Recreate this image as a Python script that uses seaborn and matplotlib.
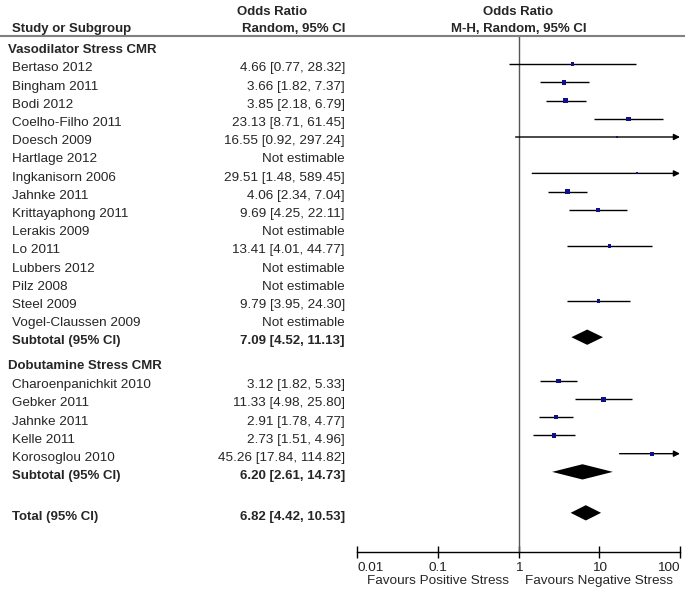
import numpy as np
import pandas as pd
import matplotlib.pyplot as plt
import seaborn as sns
from matplotlib.lines import Line2D

# ---- data ----
vaso_studies = ['Bertaso 2012', 'Bingham 2011', 'Bodi 2012', 'Coelho-Filho 2011', 'Doesch 2009',
                'Hartlage 2012', 'Ingkanisorn 2006', 'Jahnke 2011', 'Krittayaphong 2011', 'Lerakis 2009',
                'Lo 2011', 'Lubbers 2012', 'Pilz 2008', 'Steel 2009', 'Vogel-Claussen 2009']
vaso_or = [4.66, 3.66, 3.85, 23.13, 16.55, np.nan, 29.51, 4.06, 9.69, np.nan, 13.41, np.nan, np.nan, 9.79, np.nan]
vaso_lo = [0.77, 1.82, 2.18, 8.71, 0.92, np.nan, 1.48, 2.34, 4.25, np.nan, 4.01, np.nan, np.nan, 3.95, np.nan]
vaso_hi = [28.32, 7.37, 6.79, 61.45, 297.24, np.nan, 589.45, 7.04, 22.11, np.nan, 44.77, np.nan, np.nan, 24.30, np.nan]
vaso_wt = [3, 4, 5, 4, 2, 0, 2, 4, 3.5, 0, 3, 0, 0, 3.5, 0]
vaso_sub = (7.09, 4.52, 11.13)

dobu_studies = ['Charoenpanichkit 2010', 'Gebker 2011', 'Jahnke 2011', 'Kelle 2011', 'Korosoglou 2010']
dobu_or = [3.12, 11.33, 2.91, 2.73, 45.26]
dobu_lo = [1.82, 4.98, 1.78, 1.51, 17.84]
dobu_hi = [5.33, 25.80, 4.77, 4.96, 114.82]
dobu_wt = [4, 5, 4, 4, 3.5]
dobu_sub = (6.20, 2.61, 14.73)

total = (6.82, 4.42, 10.53)

ticks = [0.01, 0.1, 1, 10, 100]
tick_labels = ['0.01', '0.1', '1', '10', '100']


def fmt(o, l, h):
    if np.isnan(o):
        return 'Not estimable'
    return f'{o:.2f} [{l:.2f}, {h:.2f}]'


# row positions (in row units, top = 0)
pos_vaso = np.arange(1, 16)
pos_vaso_sub = 16
pos_dobu_head = 17.35
pos_dobu = np.arange(5) + 18.4
pos_dobu_sub = 23.4
pos_total = 25.65

df = pd.DataFrame({
    'study': vaso_studies + dobu_studies,
    'or': vaso_or + dobu_or,
    'lo': vaso_lo + dobu_lo,
    'hi': vaso_hi + dobu_hi,
    'wt': vaso_wt + dobu_wt,
    'pos': list(pos_vaso) + list(pos_dobu),
})

sns.set_theme(style='white')
plt.rcParams['font.family'] = ['Liberation Sans', 'DejaVu Sans']

W, H = 685, 590
fig = plt.figure(figsize=(W / 100, H / 100), dpi=100)

top_px, bot_px = 36, 552
row0_px, row_h = 46, 18.2
ylim = ((bot_px - row0_px) / row_h, (top_px - row0_px) / row_h)

ax_t = fig.add_axes([0, (H - bot_px) / H, 357 / W, (bot_px - top_px) / H])
ax = fig.add_axes([357 / W, (H - bot_px) / H, 323 / W, (bot_px - top_px) / H])
for a in (ax_t, ax):
    a.set_ylim(*ylim)
ax_t.axis('off')

fs = 9.7
fsb = 9.5
txt_off = 0.4  # baseline below row centre
c_name, c_grp, c_val = 12 / 357, 8 / 357, 345 / 357
tr = ax_t.get_yaxis_transform()

# header
ax_t.text(c_name, -0.77, 'Study or Subgroup', fontsize=fsb, fontweight='bold', transform=tr, va='baseline')
ax_t.text(272 / 357, -1.7, 'Odds Ratio', fontsize=fsb, fontweight='bold', transform=tr, va='baseline', ha='center')
ax_t.text(c_val, -0.77, 'Random, 95% CI', fontsize=fsb, fontweight='bold', transform=tr, va='baseline', ha='right')
fig.add_artist(Line2D([0, 1], [(H - top_px) / H] * 2, color='#808080', lw=1.5, transform=fig.transFigure))

# group headers
ax_t.text(c_grp, 0 + txt_off, 'Vasodilator Stress CMR', fontsize=fsb, fontweight='bold', transform=tr, va='baseline')
ax_t.text(c_grp, pos_dobu_head + txt_off, 'Dobutamine Stress CMR', fontsize=fsb, fontweight='bold', transform=tr,
          va='baseline')

for _, r in df.iterrows():
    ax_t.text(c_name, r['pos'] + txt_off, r['study'], fontsize=fs, transform=tr, va='baseline')
    ax_t.text(c_val, r['pos'] + txt_off, fmt(r['or'], r['lo'], r['hi']), fontsize=fs, transform=tr,
              va='baseline', ha='right')

for lab, p, s in [('Subtotal (95% CI)', pos_vaso_sub, vaso_sub), ('Subtotal (95% CI)', pos_dobu_sub, dobu_sub),
                  ('Total (95% CI)', pos_total, total)]:
    ax_t.text(c_name, p + txt_off, lab, fontsize=fsb, fontweight='bold', transform=tr, va='baseline')
    ax_t.text(c_val, p + txt_off, fmt(*s), fontsize=fsb, fontweight='bold', transform=tr, va='baseline', ha='right')

# forest panel
ax.set_xscale('log')
ax.set_xlim(0.01, 100)
ax.axvline(1, color='#555555', lw=1, zorder=1)

est = df.dropna()
for _, r in est.iterrows():
    if r['hi'] > 100:
        ax.annotate('', xy=(100, r['pos']), xytext=(r['lo'], r['pos']),
                    arrowprops=dict(arrowstyle='-|>', color='black', lw=1, mutation_scale=9,
                                    shrinkA=0, shrinkB=0), annotation_clip=False)
    else:
        ax.hlines(r['pos'], r['lo'], r['hi'], color='black', lw=1, zorder=2)

sns.scatterplot(data=est, x='or', y='pos', size='wt',
                sizes=(est['wt'].min() ** 2 * 0.55, est['wt'].max() ** 2 * 0.55),
                marker='s', color='#10108a', edgecolor='none', legend=False, ax=ax, zorder=3)

for p, (o, l, h) in [(pos_vaso_sub, vaso_sub), (pos_dobu_sub, dobu_sub), (pos_total, total)]:
    ax.fill([l, o, h, o], [p, p - 0.42, p, p + 0.42], color='black', lw=0, zorder=3)

ax.set_ylim(*ylim)
ax.set_xlabel('')
ax.set_ylabel('')
ax.set_yticks([])
for s in ['top', 'left', 'right']:
    ax.spines[s].set_visible(False)
ax.spines['bottom'].set_color('black')
ax.spines['bottom'].set_linewidth(1)
ax.set_xticks(ticks)
ax.set_xticklabels(tick_labels)
ax.minorticks_off()
ax.tick_params(axis='x', bottom=True, direction='inout', length=9, width=1, color='black',
               labelsize=fs, pad=2.5, labelcolor='#222222')
tl = ax.get_xticklabels()
tl[0].set_ha('left')
tl[-1].set_ha('right')

# header of forest column
trx = ax.get_xaxis_transform()
ax.text(1, -1.7, 'Odds Ratio', fontsize=fsb, fontweight='bold', ha='center', va='baseline', clip_on=False)
ax.text(1, -0.77, 'M-H, Random, 95% CI', fontsize=fsb, fontweight='bold', ha='center', va='baseline', clip_on=False)

fy = -(584 - bot_px) / (bot_px - top_px)
ax.text(0.1, fy, 'Favours Positive Stress', fontsize=fs, ha='center', va='baseline', transform=trx)
ax.text(10, fy, 'Favours Negative Stress', fontsize=fs, ha='center', va='baseline', transform=trx)

fig.savefig('out.png', dpi=100)
